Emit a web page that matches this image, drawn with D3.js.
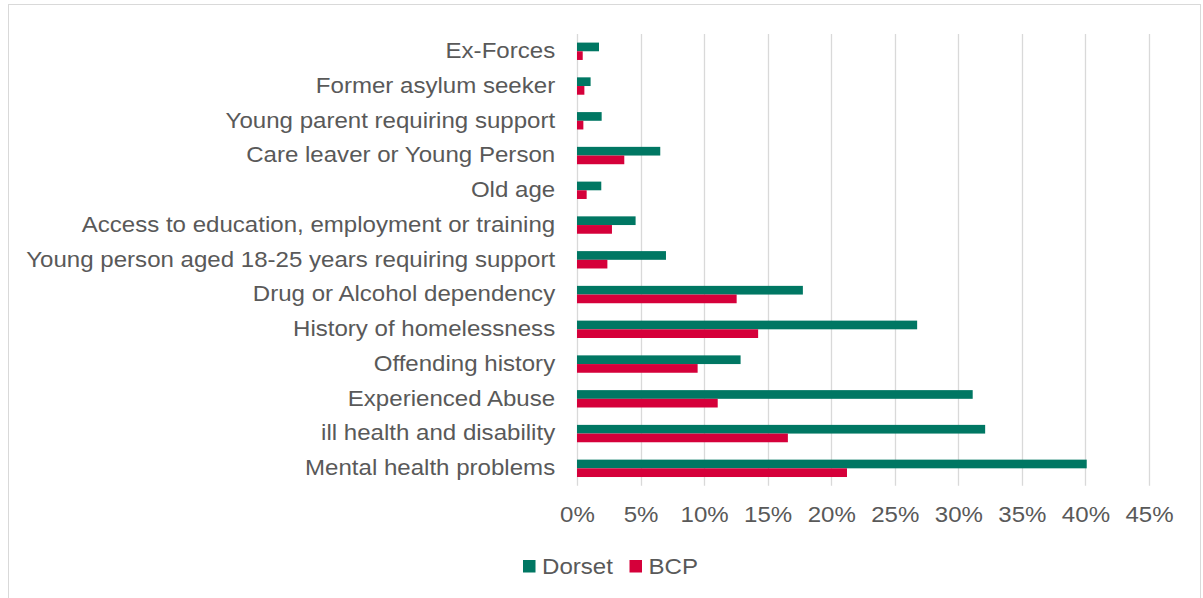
<!DOCTYPE html>
<html>
<head>
<meta charset="utf-8">
<script src="https://cdn.jsdelivr.net/npm/d3@7"></script>
<style>
  html, body { margin: 0; padding: 0; background: #fff; }
  svg { display: block; }
  text { font-family: "Liberation Sans", Arial, sans-serif; fill: #595959; }
</style>
</head>
<body>
<svg id="chart" width="1203" height="598"></svg>
<script>
// ---- data ----
const categories = [
  "Ex-Forces",
  "Former asylum seeker",
  "Young parent requiring support",
  "Care leaver or Young Person",
  "Old age",
  "Access to education, employment or training",
  "Young person aged 18-25 years requiring support",
  "Drug or Alcohol dependency",
  "History of homelessness",
  "Offending history",
  "Experienced Abuse",
  "ill health and disability",
  "Mental health problems"
];
const dorset = [0.0173, 0.0107, 0.0194, 0.0655, 0.0191, 0.0461, 0.0700, 0.1777, 0.2676, 0.1287, 0.3113, 0.3211, 0.4010];
const bcp    = [0.0045, 0.0058, 0.0050, 0.0372, 0.0076, 0.0275, 0.0239, 0.1256, 0.1425, 0.0949, 0.1107, 0.1659, 0.2124];
const seriesNames = ["Dorset", "BCP"];
const seriesColors = ["#007763", "#d5003a"];
const xTicks = [0, 0.05, 0.10, 0.15, 0.20, 0.25, 0.30, 0.35, 0.40, 0.45];

// ---- layout ----
const svg = d3.select("#chart");
const SX = 1.12;          // horizontal text stretch seen in the reference
const FS = 21.5;

svg.append("rect")
  .attr("x", 8.5).attr("y", 4.5)
  .attr("width", 1192).attr("height", 610)
  .attr("fill", "#fff").attr("stroke", "#d9d9d9").attr("stroke-width", 1);

const x = d3.scaleLinear().domain([0, 0.45]).range([577, 1149]);
const y = d3.scaleBand().domain(categories).range([33.9, 485.7])
  .paddingInner(0.5).paddingOuter(0.25);
const sub = d3.scaleBand().domain(seriesNames).range([0, y.bandwidth()]);

// gridlines
svg.append("g").selectAll("line").data(xTicks).join("line")
  .attr("x1", d => Math.round(x(d)) + 0.5).attr("x2", d => Math.round(x(d)) + 0.5)
  .attr("y1", 33.9).attr("y2", 485.7)
  .attr("stroke", "#d9d9d9").attr("stroke-width", 1.3);

// bars
const rows = categories.map((c, i) => ({ c, vals: [dorset[i], bcp[i]] }));
const gRows = svg.append("g").selectAll("g").data(rows).join("g")
  .attr("transform", d => `translate(0,${y(d.c)})`);
gRows.selectAll("rect").data(d => d.vals.map((v, j) => ({ v, s: seriesNames[j], j })))
  .join("rect")
  .attr("x", x(0))
  .attr("y", d => sub(d.s))
  .attr("width", d => x(d.v) - x(0))
  .attr("height", sub.bandwidth())
  .attr("fill", d => seriesColors[d.j]);

// y axis (labels only)
const yAxis = svg.append("g").attr("transform", `translate(${x(0)},0)`)
  .call(d3.axisLeft(y).tickSize(0).tickPadding(19.5));
yAxis.select(".domain").remove();
yAxis.selectAll("text")
  .attr("font-size", FS).style("font-family", "'Liberation Sans', Arial, sans-serif")
  .attr("fill", "#595959")
  .attr("transform", `scale(${SX},1)`);

// x axis
const xAxis = svg.append("g").attr("transform", `translate(0,485.7)`)
  .call(d3.axisBottom(x).tickValues(xTicks).tickFormat(d3.format(".0%")).tickSize(0).tickPadding(21.3));
xAxis.select(".domain").remove();
xAxis.selectAll("text")
  .attr("font-size", FS).style("font-family", "'Liberation Sans', Arial, sans-serif")
  .attr("fill", "#595959")
  .attr("transform", `scale(${SX},1)`);

// legend
const legendX = [523, 629.5];
const leg = svg.append("g").selectAll("g").data(seriesNames).join("g")
  .attr("transform", (d, i) => `translate(${legendX[i]},560)`);
leg.append("rect").attr("width", 12.5).attr("height", 12.5)
  .attr("fill", (d, i) => seriesColors[i]);
leg.append("text")
  .attr("transform", `translate(19,13.5) scale(${SX},1)`)
  .attr("font-size", FS)
  .text(d => d);
</script>
</body>
</html>
